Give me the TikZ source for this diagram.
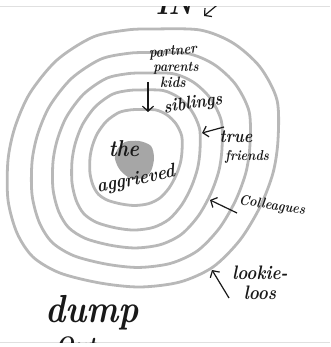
\documentclass[tikz,border=0pt]{standalone}
\usetikzlibrary{arrows.meta}

\newcommand{\scrib}[1]{\fontsize{#1}{#1}\selectfont\bfseries\itshape}

\tikzset{
  ring/.style={line width=2.8pt, draw=black!28},
  hand/.style={inner sep=0pt, text=black!90, yscale=1.15},
  poke/.style={line width=1.2pt, black!90, -{Straight Barb[length=5pt,width=11pt]}},
}

\begin{document}
\begin{tikzpicture}[x=1pt, y=-1pt]
    \useasboundingbox (0,0) rectangle (330,347);

    % edges of the scanned page
    \draw[black!12, line width=1pt] (0,6.5) -- (330,6.5);
    \draw[black!12, line width=1pt] (0,342.5) -- (330,342.5);

    % the five rings, one outline scaled down
    \foreach \cx/\cy/\sx/\sy in {143/158/1/1, 141/160/0.807/0.833, 137.5/160.5/0.626/0.678, 136/160/0.474/0.543, 136/157.5/0.341/0.372}
        \draw[ring, shift={(\cx,\cy)}, xscale=\sx, yscale=\sy] plot[smooth cycle] coordinates {
            (9,-129) (57,-128) (90,-115) (117,-91) (134,-58) (135,-18) (130,15) (117,49) (97,82) (70,109) (37,124) (-3,129)
            (-43,125) (-83,115) (-110,99) (-126,75) (-135,42) (-135,2) (-128,-31) (-113,-65) (-86,-98) (-50,-121) (-16,-128)};

    % grey smudge in the middle
    \fill[black!35] plot[smooth cycle] coordinates {(117,150) (125,142) (139,141) (151,146) (154,158) (151,171) (143,178) (130,178) (120,170) (115,159)};

    \node[hand, font=\scrib{20}] (the) at (124,149) {the};
    \node[hand, font=\scrib{17}, rotate=10] (aggrieved) at (136,180) {aggrieved};

    % inner circle of people
    \node[hand, font=\scrib{13}, rotate=5] (partner) at (173,52) {partner};
    \node[hand, font=\scrib{12.5}] (parents) at (176,68) {parents};
    \node[hand, font=\scrib{13}] (kids) at (173,82) {kids};
    \node[hand, font=\scrib{16}, rotate=8] (siblings) at (193,104) {siblings};
    \coordinate (t1) at (148,82);
    \coordinate (h1) at (148,112);
    \draw[poke] (t1) -- (h1);

    \node[hand, font=\scrib{16}] (true) at (236,137) {true};
    \node[hand, font=\scrib{12.5}] (friends) at (247,157) {friends};
    \coordinate (t2) at (224,127);
    \coordinate (h2) at (202,133);
    \draw[poke] (t2) -- (h2);

    \node[hand, font=\scrib{12.5}, rotate=-8] (colleagues) at (272,206) {Colleagues};
    \coordinate (t3) at (237,213);
    \coordinate (h3) at (210,200);
    \draw[poke] (t3) -- (h3);

    \node[hand, font=\scrib{17}] (lookie) at (260,273) {lookie-};
    \node[hand, font=\scrib{17}] (loos) at (260,293) {loos};
    \coordinate (t4) at (229,298);
    \coordinate (h4) at (212,270);
    \draw[poke] (t4) -- (h4);

    \node[hand, font=\scrib{34}] (dump) at (92,313) {dump};

    % words cut off by the page edges
    \begin{scope}
        \clip (0,7) rectangle (330,342);
        \node[hand, font=\scrib{27}, anchor=base east] (inword) at (193,15) {IN};
        \coordinate (t5) at (228,-4);
        \coordinate (h5) at (204,16);
        \draw[poke] (t5) -- (h5);
        \node[hand, font=\scrib{22}, anchor=north west] (outword) at (55,336) {Out};
    \end{scope}
\end{tikzpicture}
\end{document}
